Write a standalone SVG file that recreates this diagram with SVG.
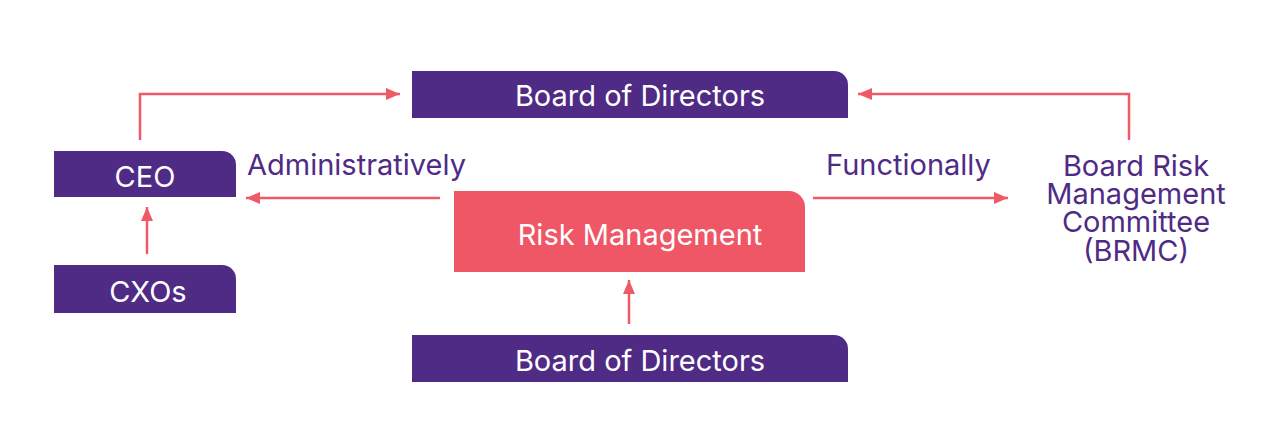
<svg xmlns="http://www.w3.org/2000/svg" width="1280" height="424" viewBox="0 0 1280 424">
<style>
.box{fill:#4f2b85}
.risk{fill:#f05766}
.bt{font-family:Inter,"Liberation Sans",sans-serif;font-size:29px;fill:#ffffff;text-anchor:middle}
.lbl{font-family:Inter,"Liberation Sans",sans-serif;font-size:29px;fill:#4f2b85}
.c{fill:none;stroke:#ef5a67;stroke-width:2.5}
</style>
<defs>
<marker id="ah" viewBox="0 0 14 12" refX="14" refY="6" markerWidth="14" markerHeight="12" markerUnits="userSpaceOnUse" orient="auto">
<path d="M0,0 L14,6 L0,12 Z" fill="#ef5a67"/>
</marker>
</defs>
<g id="connectors">
<path class="c" d="M140,140 V94 H400" marker-end="url(#ah)"/>
<path class="c" d="M1129,140 V94 H858" marker-end="url(#ah)"/>
<path class="c" d="M440,198 H246" marker-end="url(#ah)"/>
<path class="c" d="M813,198 H1008" marker-end="url(#ah)"/>
<path class="c" d="M147,254 V207" marker-end="url(#ah)"/>
<path class="c" d="M629,324 V280" marker-end="url(#ah)"/>
</g>
<g id="board-top">
<path class="box" d="M412,71 H834 A14,14 0 0 1 848,85 V118 H412 Z"/>
<text class="bt" x="640" y="106">Board of Directors</text>
</g>
<g id="ceo">
<path class="box" d="M54,151 H222 A14,14 0 0 1 236,165 V197 H54 Z"/>
<text class="bt" x="145" y="187">CEO</text>
</g>
<g id="cxos">
<path class="box" d="M54,265 H222 A14,14 0 0 1 236,279 V313 H54 Z"/>
<text class="bt" x="148" y="302">CXOs</text>
</g>
<g id="risk-management">
<path class="risk" d="M454,191 H789 A16,16 0 0 1 805,207 V272 H454 Z"/>
<text class="bt" x="640" y="245">Risk Management</text>
</g>
<g id="board-bottom">
<path class="box" d="M412,335 H834 A14,14 0 0 1 848,349 V382 H412 Z"/>
<text class="bt" x="640" y="371">Board of Directors</text>
</g>
<g id="labels">
<text class="lbl" x="247" y="175">Administratively</text>
<text class="lbl" x="826" y="175">Functionally</text>
</g>
<g id="brmc">
<text class="lbl" text-anchor="middle"><tspan x="1136" y="176">Board Risk</tspan><tspan x="1136" y="204">Management</tspan><tspan x="1136" y="232">Committee</tspan><tspan x="1136" y="261">(BRMC)</tspan></text>
</g>
</svg>
